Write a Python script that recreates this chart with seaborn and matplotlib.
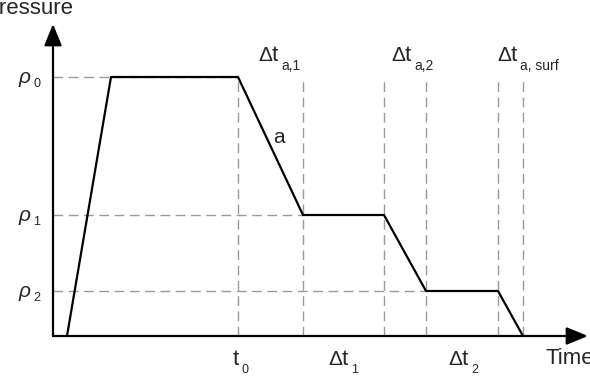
import matplotlib
matplotlib.use("Agg")
import matplotlib.pyplot as plt
import pandas as pd
import seaborn as sns

# profile breakpoints (time, pressure) in arbitrary units
TIME_PTS = [14, 58, 185, 250, 331, 373, 445, 470]
PRESS_PTS = [0, 259, 259, 121, 121, 45, 45, 0]

# pressure levels and where their guide lines stop
LEVEL_VALUES = [259, 121, 45]
LEVEL_ENDS = [185, 250, 373]
LEVEL_SUBS = ["0", "1", "2"]

# vertical guide times
GUIDE_TIMES = [185, 250, 331, 373, 445, 470]

# labels under the time axis: (has delta, subscript)
BOTTOM_DELTA = [False, True, True]
BOTTOM_SUBS = ["0", "1", "2"]
# labels above the plot
TOP_SUBS = ["a,1", "a,2", "a, surf"]

# canvas is 590 x 376 px, data origin sits at pixel (53, 336)
X0, Y0 = 53, 336
X_MAX, Y_MAX = 535, 312


def px(x, y):
    return x - X0, Y0 - y


def put(ax, x, y, s, size, **kw):
    ax.text(*px(x, y), s, fontsize=size, ha="left", va="baseline", **kw)


def delta_t(ax, x, y, sub, sub_size, sub_drop, delta=True):
    # draws "Δ t_sub" with the loose spacing of the original drawing
    if delta:
        put(ax, x, y, "\u0394", 15)
        x += 14
    put(ax, x, y, "t", 16)
    put(ax, x + 9, y + sub_drop, sub, sub_size)


def main():
    sns.set_theme(style="white")
    plt.rcParams["font.family"] = ["Liberation Sans", "DejaVu Sans"]

    fig = plt.figure(figsize=(5.9, 3.76), dpi=100)
    ax = fig.add_axes([0, 0, 1, 1])
    ax.set_xlim(-X0, 590 - X0)
    ax.set_ylim(Y0 - 376, Y0)
    ax.axis("off")

    dash_kw = dict(color="#9a9a9a", lw=1.0, linestyles=(0, (7, 4)), zorder=1)
    ax.hlines(LEVEL_VALUES, 0, LEVEL_ENDS, **dash_kw)
    ax.vlines(GUIDE_TIMES, 0, LEVEL_VALUES[0], **dash_kw)

    df = pd.DataFrame({"time": TIME_PTS, "pressure": PRESS_PTS})
    sns.lineplot(data=df, x="time", y="pressure", sort=False, color="black",
                 lw=1.6, ax=ax, zorder=3)
    ax.set_xlabel("")
    ax.set_ylabel("")

    arrow = dict(arrowstyle="-|>,head_length=1.1,head_width=0.45", color="black",
                 lw=1.6, shrinkA=0, shrinkB=0)
    ax.annotate("", xy=(X_MAX, 0), xytext=(0, 0), arrowprops=arrow, zorder=4)
    ax.annotate("", xy=(0, Y_MAX), xytext=(0, 0), arrowprops=arrow, zorder=4)

    put(ax, -16, 14, "Pressure", 16)
    put(ax, 545, 364, "Time", 16)

    # rho labels on the pressure axis
    for sub, val in zip(LEVEL_SUBS, LEVEL_VALUES):
        ylev = Y0 - val
        put(ax, 19, ylev + 6, "\u03c1", 15, fontstyle="italic")
        put(ax, 33, ylev + 10, sub, 9)

    # time axis labels
    for has_delta, sub, xl in zip(BOTTOM_DELTA, BOTTOM_SUBS, [233, 328, 448]):
        delta_t(ax, xl, 365, sub, 9, 8, delta=has_delta)

    # top interval labels
    for sub, xl in zip(TOP_SUBS, [258, 391, 497]):
        delta_t(ax, xl, 61, sub, 10, 9)

    put(ax, 273, 143, "a", 15)

    fig.savefig("out.png", dpi=100)
    plt.close(fig)


if __name__ == "__main__":
    main()
